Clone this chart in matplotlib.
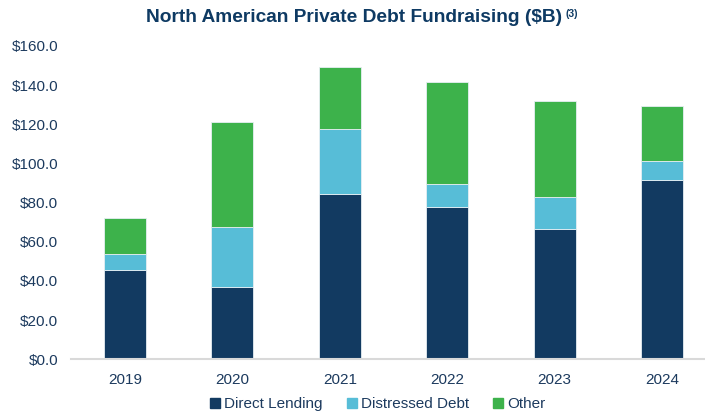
import matplotlib.pyplot as plt
from matplotlib.lines import Line2D
from matplotlib.ticker import FuncFormatter

plt.rcParams['font.family'] = ['Liberation Sans', 'DejaVu Sans']

# fundraising by strategy, $B
years = ['2019', '2020', '2021', '2022', '2023', '2024']
direct_lending = [45.6, 37.1, 84.6, 77.6, 66.4, 91.4]
distressed_debt = [8.0, 30.3, 33.0, 11.8, 16.6, 9.9]
other = [18.4, 53.6, 31.8, 52.1, 48.9, 28.1]

series_names = ['Direct Lending', 'Distressed Debt', 'Other']
colors = ['#123a61', '#57bdd7', '#3db24b']
text_color = '#1c3a5e'

fig = plt.figure(figsize=(7.05, 4.11), dpi=100)
ax = fig.add_axes([71.3 / 705, 51.7 / 411, 644.4 / 705, (359.3 - 46) / 411])

x = range(len(years))
bottom = [0.0] * len(years)
for vals, col in zip([direct_lending, distressed_debt, other], colors):
    ax.bar(x, vals, width=0.39, bottom=bottom, color=col,
           edgecolor='#e6eef3', linewidth=0.6)
    bottom = [b + v for b, v in zip(bottom, vals)]

ax.set_xlim(-0.5, len(years) - 0.5)
ax.set_ylim(0, 160)
ax.set_yticks(range(0, 161, 20))
ax.yaxis.set_major_formatter(FuncFormatter(lambda v, p: f'${v:.1f}'))
ax.set_xticks(list(x))
ax.set_xticklabels(years)

for s in ['top', 'right', 'left']:
    ax.spines[s].set_visible(False)
ax.spines['bottom'].set_color('#d9d9d9')
ax.spines['bottom'].set_linewidth(1.5)
ax.tick_params(axis='both', length=0, labelsize=11, colors=text_color)
ax.tick_params(axis='y', pad=9.5)
ax.tick_params(axis='x', pad=10)

fig.text(354 / 705, 1 - 18 / 411, 'North American Private Debt Fundraising ($B)',
         ha='center', va='center', fontsize=13.8, fontweight='bold', color='#0e3a63')
fig.text(566 / 705, 1 - 14 / 411, '(3)', ha='left', va='center',
         fontsize=7.5, fontweight='bold', color='#0e3a63')

handles = [Line2D([], [], marker='s', linestyle='none', markersize=7, color=c)
           for c in colors]
fig.legend(handles, series_names, loc='center', bbox_to_anchor=(378 / 705, 1 - 404 / 411),
           ncol=3, frameon=False, fontsize=11, handlelength=0.6, handletextpad=0.3,
           columnspacing=1.6, labelcolor=text_color)

fig.savefig('out.png', dpi=100)
